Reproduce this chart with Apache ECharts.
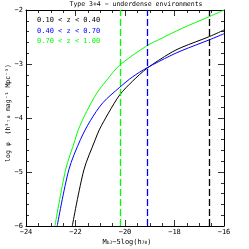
<!DOCTYPE html>
<html><head><meta charset="utf-8">
<script src="https://cdn.jsdelivr.net/npm/echarts@6/dist/echarts.min.js"></script>
<style>html,body{margin:0;padding:0;background:#fff}#c{width:249px;height:249px}</style>
</head><body><div id="c"></div>
<script>
const titleText = 'Type 3+4 \u2212 underdense environments';
const seriesNames = ['0.10 < z < 0.40', '0.40 < z < 0.70', '0.70 < z < 1.00'];
const seriesColors = ['#000000', '#0000ff', '#00ff00'];
const xTicks = [-24, -22, -20, -18, -16];
const yTicks = [-6, -5, -4, -3, -2];
// [M, log phi]
const blackCurve = [[-22.13,-6.0],[-21.66,-4.96],[-21.21,-4.41],[-21.04,-4.22],[-20.67,-3.91],[-20.21,-3.57],[-19.70,-3.32],[-19.11,-3.08],[-18.18,-2.80],[-17.70,-2.69],[-16.58,-2.49],[-16.0,-2.37]];
const blueCurve = [[-22.74,-6.0],[-22.27,-4.96],[-21.80,-4.40],[-21.40,-4.05],[-20.90,-3.72],[-20.21,-3.43],[-19.70,-3.24],[-19.11,-3.07],[-18.18,-2.85],[-17.70,-2.75],[-16.58,-2.55],[-16.0,-2.44]];
const greenCurve = [[-22.83,-6.0],[-22.40,-4.96],[-22.02,-4.41],[-21.89,-4.22],[-21.55,-3.88],[-21.14,-3.54],[-20.74,-3.30],[-20.21,-3.02],[-19.11,-2.66],[-18.59,-2.54],[-17.70,-2.34],[-16.58,-2.12],[-16.0,-2.0]];
const limits = [-16.58, -19.11, -20.21]; // black, blue, green vertical dashed

const curves = [blackCurve, blueCurve, greenCurve];
const chart = echarts.init(document.getElementById('c'));
const font = 'DejaVu Sans Mono';
const minus = v => String(v).replace('-', '\u2212');
const series = curves.map((d, i) => ({
  type: 'line', data: d, smooth: 0.3, showSymbol: false, symbol: 'none',
  lineStyle: {color: seriesColors[i], width: 1}, clip: true, z: 3,
  markLine: {symbol: 'none', silent: true, label: {show: false},
    lineStyle: {color: seriesColors[i], type: [7, 3], width: 1.3, opacity: 1},
    data: [{xAxis: limits[i]}]}
}));
const tickStyle = {color: '#000', width: 0.8};
chart.setOption({
  animation: false,
  grid: {left: 26, right: 25, top: 10, bottom: 23},
  xAxis: [
    {type: 'value', position: 'bottom', min: -24, max: -16, interval: 2,
      axisLine: {onZero: false, lineStyle: {color: '#000', width: 1}},
      axisTick: {inside: true, length: 6, lineStyle: tickStyle},
      minorTick: {show: true, splitNumber: 4, length: 3, lineStyle: tickStyle},
      splitLine: {show: false},
      axisLabel: {fontFamily: font, fontSize: 7, color: '#000', margin: 3, formatter: minus}},
    {type: 'value', position: 'top', min: -24, max: -16, interval: 2,
      axisLine: {onZero: false, lineStyle: {color: '#000', width: 1}},
      axisTick: {inside: true, length: 6, lineStyle: tickStyle},
      minorTick: {show: true, splitNumber: 4, length: 3, lineStyle: tickStyle},
      splitLine: {show: false}, axisLabel: {show: false}}
  ],
  yAxis: [
    {type: 'value', position: 'left', min: -6, max: -2, interval: 1,
      axisLine: {onZero: false, lineStyle: {color: '#000', width: 1}},
      axisTick: {inside: true, length: 6, lineStyle: tickStyle},
      minorTick: {show: true, splitNumber: 5, length: 3, lineStyle: tickStyle},
      splitLine: {show: false},
      axisLabel: {fontFamily: font, fontSize: 7, color: '#000', margin: 3, formatter: minus}},
    {type: 'value', position: 'right', min: -6, max: -2, interval: 1,
      axisLine: {onZero: false, lineStyle: {color: '#000', width: 1}},
      axisTick: {inside: true, length: 6, lineStyle: tickStyle},
      minorTick: {show: true, splitNumber: 5, length: 3, lineStyle: tickStyle},
      splitLine: {show: false}, axisLabel: {show: false}}
  ],
  series: series,
  graphic: [
    {type: 'text', x: 136, y: 4.5, style: {text: titleText, textAlign: 'center', textVerticalAlign: 'middle',
      fill: '#000', font: '6.5px ' + font}},
    ...seriesNames.map((n, i) => ({type: 'text', left: 37, top: 17 + i * 10.5, z: 10,
      style: {text: n, fill: seriesColors[i], font: '7px ' + font}})),
    {type: 'text', x: 127, y: 246, style: {
      text: '{m|M}{s|bJ}{m|\u22125log(h}{s|70}{m|)}', textAlign: 'center', textVerticalAlign: 'bottom',
      rich: {m: {fontFamily: font, fontSize: 7, fill: '#000'}, s: {fontFamily: font, fontSize: 4.5, fill: '#000'}}}},
    {type: 'text', x: 8, y: 113, rotation: Math.PI / 2, style: {
      text: 'log \u03c6  (h\u00b3\u2087\u2080 mag\u207b\u00b9 Mpc\u207b\u00b3)', textAlign: 'center', textVerticalAlign: 'middle',
      fill: '#000', font: '6.5px ' + font}}
  ]
});
</script></body></html>
